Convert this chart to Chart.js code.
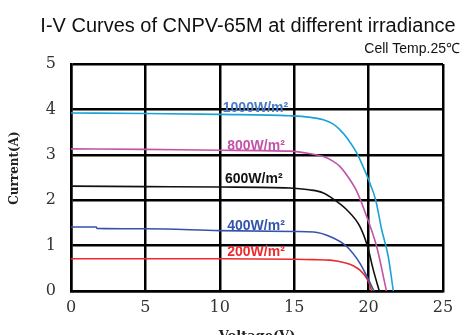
<!DOCTYPE html>
<html>
<head>
<meta charset="utf-8">
<script src="https://cdn.jsdelivr.net/npm/chart.js@4"></script>
<style>
  html, body { margin: 0; padding: 0; background: #fff; }
  #wrap { width: 476px; height: 335px; }
</style>
</head>
<body>
<div id="wrap"><canvas id="myChart" width="476" height="335"></canvas></div>
<script>
// tick labels
var xTicks = [0, 5, 10, 15, 20, 25];
var yTicks = [0, 1, 2, 3, 4, 5];

// I-V points (voltage V, current A)
var v1000 = [0, 5, 10, 14.7, 16, 16.96, 17.6, 18.08, 18.6, 19.2, 19.6, 20.0, 20.48, 20.88, 21.32, 21.66];
var i1000 = [3.92, 3.91, 3.89, 3.86, 3.83, 3.77, 3.68, 3.55, 3.35, 3.04, 2.76, 2.45, 2.0, 1.35, 0.76, 0];

var v800 = [0, 5, 10, 14.7, 16, 16.96, 17.6, 18.08, 18.75, 19.2, 19.87, 20.54, 21.2];
var i800 = [3.13, 3.12, 3.10, 3.08, 3.03, 2.96, 2.86, 2.74, 2.45, 2.2, 1.64, 0.98, 0];

var v600 = [0, 5, 10, 14.7, 16, 16.96, 17.74, 18.53, 19.42, 19.93, 20.32, 20.72];
var i600 = [2.31, 2.30, 2.29, 2.27, 2.23, 2.16, 2.0, 1.79, 1.42, 0.98, 0.46, 0];

var v400 = [0, 1.7, 1.75, 5, 10, 15, 16.3, 17.4, 18.53, 19.42, 19.98, 20.36];
var i400 = [1.41, 1.41, 1.38, 1.37, 1.33, 1.31, 1.30, 1.2, 0.98, 0.61, 0.26, 0];

var v200 = [0, 10, 15, 16.3, 17.4, 18.53, 19.0, 19.42, 19.87, 20.1, 20.2];
var i200 = [0.71, 0.71, 0.70, 0.69, 0.68, 0.61, 0.55, 0.46, 0.28, 0.12, 0];

var curveNames = ['1000W/m²', '800W/m²', '600W/m²', '400W/m²', '200W/m²'];
var lineColors = ['#1ba3d8', '#c253a6', '#111111', '#3553ad', '#ea2a2e'];
var labelColors = ['#4a7cc8', '#c253a6', '#111111', '#3553ad', '#ee2a2e'];
// where each curve name sits (voltage, current of its baseline)
var labelX = [10.2, 10.5, 10.35, 10.5, 10.5];
var labelY = [3.95, 3.11, 2.38, 1.35, 0.77];

function pts(vs, is) {
    return vs.map(function (v, k) { return {x: v, y: is[k]}; });
}
var allV = [v1000, v800, v600, v400, v200];
var allI = [i1000, i800, i600, i400, i200];

var datasets = allV.map(function (vs, k) {
    return {
        label: curveNames[k],
        data: pts(vs, allI[k]),
        borderColor: lineColors[k],
        borderWidth: 1.6,
        pointRadius: 0,
        showLine: true,
        fill: false,
        cubicInterpolationMode: 'monotone'
    };
});

var textPlugin = {
    id: 'texts',
    afterDraw: function (chart) {
        var c = chart.ctx;
        c.save();
        c.fillStyle = '#111';
        c.textBaseline = 'alphabetic';
        c.font = '20px "Liberation Sans", Arial, sans-serif';
        c.textAlign = 'center';
        c.fillText('I-V Curves of CNPV-65M at different irradiance', 248, 32);
        c.font = '14px "Liberation Sans", Arial, sans-serif';
        c.textAlign = 'right';
        c.fillText('Cell Temp.25℃', 460, 53);
        // y axis title, a bit above the middle of the plot
        c.fillStyle = '#222';
        c.font = 'bold 12px "DejaVu Serif", serif';
        c.textAlign = 'center';
        c.textBaseline = 'middle';
        c.translate(15, 168);
        c.rotate(-Math.PI / 2);
        c.fillText('Current(A)', 0, 0);
        c.restore();
    },
    afterDatasetsDraw: function (chart) {
        var c = chart.ctx;
        var xs = chart.scales.x, ys = chart.scales.y;
        c.save();
        c.font = 'bold 14px "Liberation Sans", Arial, sans-serif';
        c.textAlign = 'left';
        c.textBaseline = 'alphabetic';
        curveNames.forEach(function (name, k) {
            c.fillStyle = labelColors[k];
            c.fillText(name, xs.getPixelForValue(labelX[k]), ys.getPixelForValue(labelY[k]));
        });
        c.restore();
    }
};

var ctx = document.getElementById('myChart').getContext('2d');
var chart = new Chart(ctx, {
    type: 'scatter',
    data: { datasets: datasets },
    plugins: [textPlugin],
    options: {
        responsive: false,
        animation: false,
        layout: { padding: { top: 64, right: 33, left: 0, bottom: 0 } },
        plugins: {
            legend: { display: false },
            tooltip: { enabled: false }
        },
        scales: {
            x: {
                type: 'linear',
                min: 0,
                max: 25,
                afterFit: function (s) { s.height = 44; },
                afterBuildTicks: function (s) { s.ticks = xTicks.map(function (v) { return {value: v}; }); },
                grid: { color: '#000', lineWidth: 2.5, drawTicks: false },
                border: { color: '#000', width: 2.5 },
                ticks: {
                    color: '#333',
                    padding: 7,
                    font: { family: '"DejaVu Serif", serif', size: 16 }
                },
                title: {
                    display: true,
                    text: 'Voltage(V)',
                    color: '#222',
                    padding: { top: 0, bottom: -9 },
                    font: { family: '"DejaVu Serif", serif', size: 13, weight: 'bold' }
                }
            },
            y: {
                type: 'linear',
                min: 0,
                max: 5,
                afterFit: function (s) { s.width = 71; },
                afterBuildTicks: function (s) { s.ticks = yTicks.map(function (v) { return {value: v}; }); },
                grid: { color: '#000', lineWidth: 2.5, drawTicks: false },
                border: { color: '#000', width: 2.5 },
                ticks: {
                    color: '#333',
                    padding: 15,
                    font: { family: '"DejaVu Serif", serif', size: 16 }
                }
            }
        }
    }
});
</script>
</body>
</html>
